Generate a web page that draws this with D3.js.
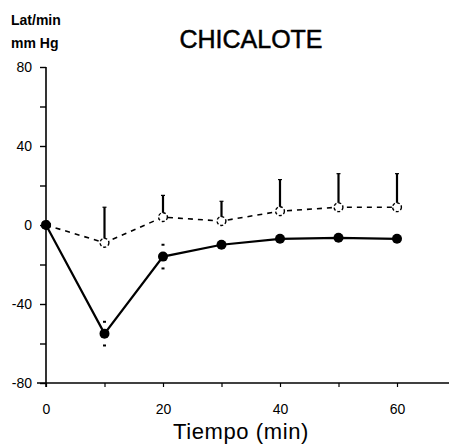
<!DOCTYPE html>
<html><head><meta charset="utf-8">
<script src="https://cdn.jsdelivr.net/npm/d3@7/dist/d3.min.js"></script>
<style>body{margin:0;background:#fff}svg{display:block;font-family:"Liberation Sans",Arial,sans-serif}</style>
</head><body>
<script>
const times = [0, 10, 20, 30, 40, 50, 60];
const openValues = [0, -9, 4, 2, 7, 9, 9];
const openErr = [0, 18, 11, 10, 16, 17, 17];
const filledValues = [0, -55, -16, -10, -7, -6.5, -7];
const filledErr = [0, 6, 6, 0, 0, 0, 0];
const yLabelTicks = [80, 40, 0, -40, -80];
const yMinorTicks = [60, 20, -20, -60];
const xLabelTicks = [0, 20, 40, 60];
const xMinorTicks = [10, 30, 50];
const title = "CHICALOTE";
const yTitle = ["Lat/min", "mm Hg"];
const xTitle = "Tiempo (min)";

const W = 449, H = 447;
const svg = d3.select("body").append("svg").attr("width", W).attr("height", H);
const x = d3.scaleLinear().domain([0, 60]).range([46, 397]);
const y = d3.scaleLinear().domain([-80, 80]).range([383, 67]);

// Y axis
const yAxis = d3.axisLeft(y).tickValues(yLabelTicks.concat(yMinorTicks)).tickSize(6)
  .tickFormat(d => yLabelTicks.includes(d) ? d : "");
const gy = svg.append("g").attr("transform", `translate(${x(0)},0)`).call(yAxis);
gy.select(".domain").attr("d", `M0,${y(80)}V${y(-80) + 4}`).attr("stroke", "#000").attr("stroke-width", 1.6);
gy.selectAll(".tick line").attr("stroke", "#000").attr("stroke-width", 1.4);
gy.selectAll(".tick text").attr("font-size", 14).attr("fill", "#000").attr("x", -14);

// X axis
const xAxis = d3.axisBottom(x).tickValues(xLabelTicks.concat(xMinorTicks)).tickSize(4)
  .tickFormat(d => xLabelTicks.includes(d) ? d : "");
const gx = svg.append("g").attr("transform", `translate(0,${y(-80)})`).call(xAxis);
gx.select(".domain").attr("d", `M${x(0) - 9},0H${W}`).attr("stroke", "#000").attr("stroke-width", 1.6);
gx.selectAll(".tick line").attr("stroke", "#000").attr("stroke-width", 1.2);
gx.selectAll(".tick text").attr("font-size", 14).attr("fill", "#000").attr("dy", "1.05em").attr("y", 16);

const openData = times.map((t, i) => ({t, v: openValues[i], e: openErr[i]}));
const filledData = times.map((t, i) => ({t, v: filledValues[i], e: filledErr[i]}));

svg.append("g").selectAll("g").data(openData.filter(d => d.e > 0)).join("g").each(function(d) {
  const g = d3.select(this);
  g.append("line").attr("x1", x(d.t)).attr("x2", x(d.t)).attr("y1", y(d.v) - 4).attr("y2", y(d.v + d.e))
    .attr("stroke", "#000").attr("stroke-width", 2.2);
  g.append("line").attr("x1", x(d.t) - 2).attr("x2", x(d.t) + 2).attr("y1", y(d.v + d.e)).attr("y2", y(d.v + d.e))
    .attr("stroke", "#000").attr("stroke-width", 1.2);
});
svg.append("g").selectAll("g").data(filledData.filter(d => d.e > 0)).join("g").each(function(d) {
  const g = d3.select(this);
  [d.v + d.e, d.v - d.e].forEach(v => {
    g.append("line").attr("x1", x(d.t) - 1.5).attr("x2", x(d.t) + 1.5).attr("y1", y(v)).attr("y2", y(v))
      .attr("stroke", "#000").attr("stroke-width", 2);
  });
});

const line = d3.line().x(d => x(d.t)).y(d => y(d.v));
svg.append("path").datum(openData).attr("d", line).attr("fill", "none").attr("stroke", "#000")
  .attr("stroke-width", 1.6).attr("stroke-dasharray", "5,5");
svg.append("path").datum(filledData).attr("d", line).attr("fill", "none").attr("stroke", "#000")
  .attr("stroke-width", 2.2);

svg.append("g").selectAll("circle").data(openData).join("circle")
  .attr("cx", d => x(d.t)).attr("cy", d => y(d.v)).attr("r", 4.4)
  .attr("fill", "#fff").attr("stroke", "#000").attr("stroke-width", 1.4).attr("stroke-dasharray", "3,2");
svg.append("g").selectAll("circle").data(filledData).join("circle")
  .attr("cx", d => x(d.t)).attr("cy", d => y(d.v)).attr("r", 5).attr("fill", "#000");

// Texts
svg.append("text").attr("x", 251).attr("y", 48).attr("text-anchor", "middle")
  .attr("font-size", 25).attr("fill", "#000").attr("stroke", "#000").attr("stroke-width", 0.5).text(title);
yTitle.forEach((t, i) => svg.append("text").attr("x", 11).attr("y", 25 + i * 23)
  .attr("font-size", 14).attr("font-weight", "bold").attr("fill", "#000").text(t));
svg.append("text").attr("x", 241).attr("y", 439).attr("text-anchor", "middle")
  .attr("font-size", 22).attr("letter-spacing", 0.6).attr("fill", "#000").text(xTitle);
</script>
</body></html>
